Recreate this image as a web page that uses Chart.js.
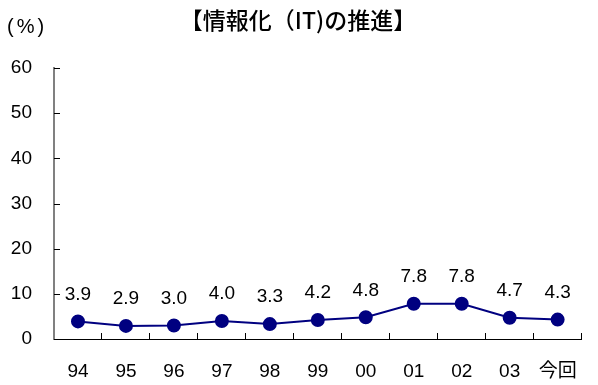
<!DOCTYPE html>
<html lang="ja">
<head>
<meta charset="UTF-8">
<title>情報化(IT)の推進</title>
<style>
    body { margin: 0; background: #fff; }
    #wrap { width: 598px; height: 385px; }
</style>
</head>
<body>
<div id="wrap"><canvas id="itChart" width="598" height="385"></canvas></div>
<script src="https://cdn.jsdelivr.net/npm/chart.js"></script>
<script>
    // データ
    const years = ['94', '95', '96', '97', '98', '99', '00', '01', '02', '03', '今回'];
    const itValues = [3.9, 2.9, 3.0, 4.0, 3.3, 4.2, 4.8, 7.8, 7.8, 4.7, 4.3];
    const yTicks = [0, 10, 20, 30, 40, 50, 60];
    const chartTitle = '【情報化（IT)の推進】';
    const unitLabel = '(%)';

    const FONT = 'Arial, "Liberation Sans", "Noto Sans CJK JP", sans-serif';
    const NAVY = '#000080';

    // タイトル・単位・数値ラベル・内向きの目盛り
    const decorPlugin = {
        id: 'decor',
        afterDraw(chart) {
            const ctx = chart.ctx;
            const area = chart.chartArea;
            const ys = chart.scales.y;
            ctx.save();

            ctx.fillStyle = '#000';
            ctx.textBaseline = 'middle';
            ctx.font = '500 23px "Noto Sans CJK JP", sans-serif';
            ctx.textAlign = 'center';
            ctx.fillText(chartTitle, 298, 20);
            ctx.font = '20px ' + FONT;
            ctx.textAlign = 'left';
            ctx.letterSpacing = '3px';
            ctx.fillText(unitLabel, 7, 27);
            ctx.letterSpacing = '0px';

            // x軸の目盛り（上向き）
            ctx.strokeStyle = '#000';
            ctx.lineWidth = 1;
            const step = (area.right - area.left) / years.length;
            for (let i = 1; i <= years.length; i++) {
                const x = Math.round(area.left + i * step) - 0.5;
                ctx.beginPath();
                ctx.moveTo(x, area.bottom);
                ctx.lineTo(x, area.bottom - 6);
                ctx.stroke();
            }
            // y軸の目盛り（右向き）
            ys.ticks.forEach((t, i) => {
                const y = Math.round(ys.getPixelForTick(i)) + 0.5;
                ctx.beginPath();
                ctx.moveTo(area.left, y);
                ctx.lineTo(area.left + 6, y);
                ctx.stroke();
            });

            // 数値ラベル
            ctx.font = '19px ' + FONT;
            ctx.textAlign = 'center';
            ctx.fillStyle = '#000';
            const meta = chart.getDatasetMeta(0);
            meta.data.forEach((pt, i) => {
                ctx.fillText(itValues[i].toFixed(1), pt.x, pt.y - 27);
            });
            ctx.restore();
        }
    };

    const ctx = document.getElementById('itChart').getContext('2d');
    new Chart(ctx, {
        type: 'line',
        data: {
            labels: years,
            datasets: [{
                data: itValues,
                borderColor: NAVY,
                backgroundColor: NAVY,
                borderWidth: 2,
                pointRadius: 6,
                pointBackgroundColor: NAVY,
                pointBorderColor: NAVY,
                fill: false,
                tension: 0
            }]
        },
        options: {
            responsive: false,
            animation: false,
            devicePixelRatio: 1,
            layout: { padding: { top: 68, right: 2, left: 0, bottom: 0 } },
            plugins: {
                legend: { display: false },
                title: { display: false },
                tooltip: { enabled: false }
            },
            scales: {
                x: {
                    offset: true,
                    grid: { display: true, drawOnChartArea: false, drawTicks: false },
                    border: { color: '#000', width: 1 },
                    ticks: { color: '#000', font: { size: 19, family: FONT }, padding: 21, maxRotation: 0 },
                    afterFit(scale) { scale.height = 46; }
                },
                y: {
                    min: 0,
                    max: 60,
                    afterBuildTicks(scale) { scale.ticks = yTicks.map(v => ({ value: v })); },
                    grid: { drawOnChartArea: false, drawTicks: false },
                    border: { color: '#808080', width: 2 },
                    ticks: { color: '#000', font: { size: 19, family: FONT }, padding: 22 },
                    afterFit(scale) { scale.width = 54; }
                }
            }
        },
        plugins: [decorPlugin]
    });
</script>
</body>
</html>
